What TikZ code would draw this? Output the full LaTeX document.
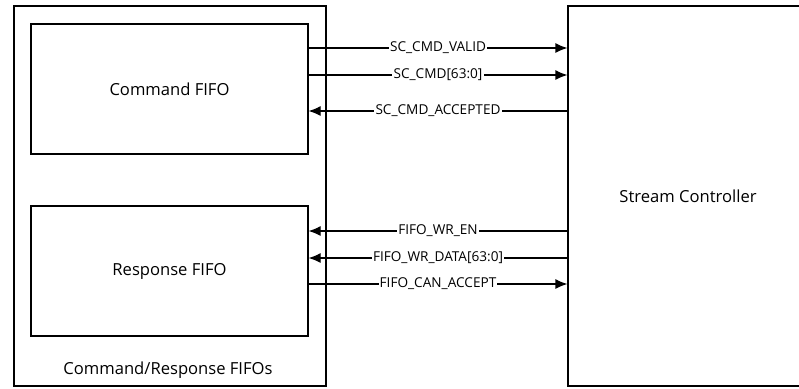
\documentclass[tikz,border=0pt]{standalone}
\usepackage{fontspec}
\setmainfont{Open Sans}
\usetikzlibrary{positioning, arrows.meta}
\tikzset{
	fifobox/.style={
			draw=black,
			line width=0.6pt,
			fill=white,
			minimum width=138.5pt,
			minimum height=65pt,
			inner sep=0pt,
			font=\fontsize{8.3}{10}\selectfont
		},
	outerbox/.style={
			draw=black,
			line width=0.6pt,
			minimum width=156pt,
			minimum height=190pt,
			inner sep=0pt
		},
	ctrlbox/.style={
			outerbox,
			minimum width=120pt
		},
	sigarrow/.style={
			line width=0.6pt,
			-{Latex[length=6pt,width=5pt]}
		},
	siglabel/.style={
			fill=white,
			inner sep=0.6pt,
			font=\fontsize{6.8}{7}\selectfont
		}
}
\begin{document}
\begin{tikzpicture}[x=0.5pt, y=-0.5pt]
    \useasboundingbox (0,0) rectangle (799,388);

    \node[outerbox] (fifos) at (170,196)  {};
    \node[fifobox] (cmdfifo) at (169.5,89)  {Command FIFO};
    \node[fifobox] (rspfifo) at (169.5,271)  {Response FIFO};
    \node[font=\fontsize{8.3}{10}\selectfont] (fifoslabel) at (168,370)  {Command/Response FIFOs};
    \node[ctrlbox, font=\fontsize{8.3}{10}\selectfont] (ctrl) at (688,196)  {Stream Controller};

    \draw[sigarrow] (cmdfifo.east |- 0,48) -- node[siglabel] {SC\_CMD\_VALID} (ctrl.west |- 0,48);
    \draw[sigarrow] (cmdfifo.east |- 0,75) -- node[siglabel] {SC\_CMD[63:0]} (ctrl.west |- 0,75);
    \draw[sigarrow] (ctrl.west |- 0,111) -- node[siglabel] {SC\_CMD\_ACCEPTED} (cmdfifo.east |- 0,111);

    \draw[sigarrow] (ctrl.west |- 0,231) -- node[siglabel] {FIFO\_WR\_EN} (rspfifo.east |- 0,231);
    \draw[sigarrow] (ctrl.west |- 0,258) -- node[siglabel] {FIFO\_WR\_DATA[63:0]} (rspfifo.east |- 0,258);
    \draw[sigarrow] (rspfifo.east |- 0,284) -- node[siglabel] {FIFO\_CAN\_ACCEPT} (ctrl.west |- 0,284);
\end{tikzpicture}
\end{document}
